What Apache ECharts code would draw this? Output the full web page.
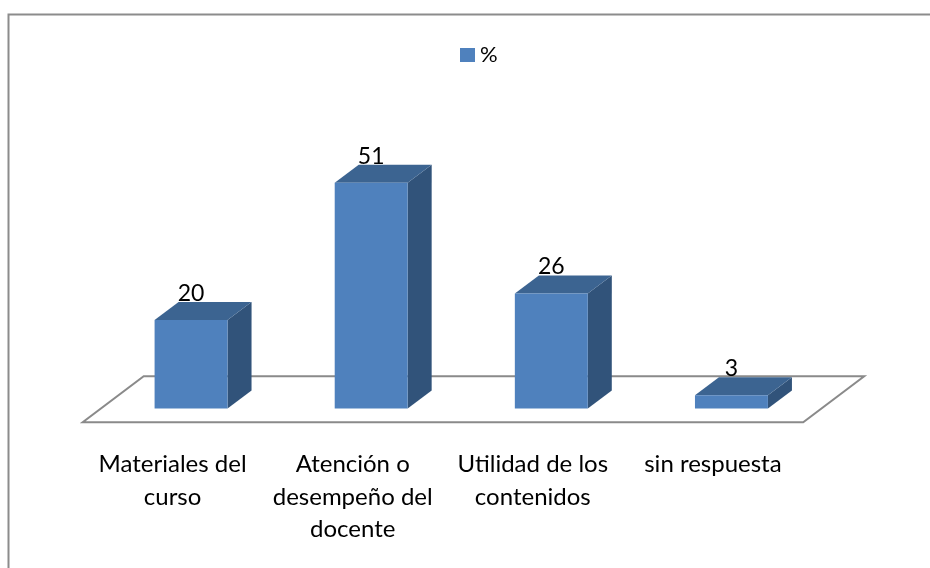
<!DOCTYPE html>
<html>
<head>
<meta charset="utf-8">
<script src="https://cdn.jsdelivr.net/npm/echarts@6/dist/echarts.min.js"></script>
<style>
html,body{margin:0;padding:0;background:#fff;}
#chart{width:930px;height:568px;}
</style>
</head>
<body>
<div id="chart"></div>
<script>
const categories = ['Materiales del\ncurso', 'Atención o\ndesempeño del\ndocente', 'Utilidad de los\ncontenidos', 'sin respuesta'];
const values = [20, 51, 26, 3];
const seriesName = '%';

const FONT = 'Lato';
const FRONT = '#4F81BD';
const TOP = '#3C6491';
const SIDE = '#31537A';
const FLOOR = '#8a8a8a';

const chart = echarts.init(document.getElementById('chart'), null, {renderer: 'canvas'});

function floorRender(params, api) {
  const cs = params.coordSys;
  const zeroY = cs.y + cs.height;
  const D = [61, -46];
  const off = [-18.3, 13.8];
  const fl = [cs.x + off[0], zeroY + off[1]];
  const fr = [cs.x + cs.width + off[0], zeroY + off[1]];
  const br = [fr[0] + D[0], fr[1] + D[1]];
  const bl = [fl[0] + D[0], fl[1] + D[1]];
  return {
    type: 'polygon',
    shape: {points: [fl, fr, br, bl]},
    style: {fill: '#fff', stroke: FLOOR, lineWidth: 2},
    silent: true
  };
}

function barRender(params, api) {
  const band = api.size([1, 0])[0];
  const bw = band * 0.405;
  const dx = 24, dy = -18;
  const base = api.coord([api.value(0), 0]);
  const top = api.coord([api.value(0), api.value(1)]);
  const x0 = base[0] - bw / 2;
  const x1 = x0 + bw;
  const yb = base[1];
  const yt = top[1];
  return {
    type: 'group',
    children: [
      {type: 'polygon', shape: {points: [[x1, yt], [x1 + dx, yt + dy], [x1 + dx, yb + dy], [x1, yb]]}, style: {fill: SIDE}},
      {type: 'polygon', shape: {points: [[x0, yt], [x1, yt], [x1 + dx, yt + dy], [x0 + dx, yt + dy]]}, style: {fill: TOP}},
      {type: 'rect', shape: {x: x0, y: yt, width: bw, height: yb - yt}, style: {fill: FRONT}},
      {type: 'text', x: base[0], y: yt + dy + 3, style: {text: String(api.value(1)), fill: '#000', font: '23px ' + FONT, align: 'center', verticalAlign: 'bottom'}}
    ]
  };
}

chart.setOption({
  animation: false,
  backgroundColor: '#fff',
  graphic: [{
    type: 'rect', left: 6, top: 12, z: -10, silent: true,
    shape: {x: 0, y: 0, width: 940, height: 580},
    style: {fill: 'none', stroke: '#8c8c8c', lineWidth: 2}
  }],
  legend: {
    data: [{name: seriesName, icon: 'rect', itemStyle: {color: FRONT}}],
    left: 460, top: 44, padding: 0,
    itemWidth: 15, itemHeight: 14, itemGap: 4,
    textStyle: {fontFamily: FONT, fontSize: 22, color: '#000', padding: [0, 0, 0, 0]}
  },
  grid: {left: 101, width: 720.5, top: 142.9, height: 265.6},
  xAxis: {
    type: 'category', data: categories,
    axisLine: {show: false}, axisTick: {show: false}, splitLine: {show: false},
    axisLabel: {
      interval: 0, margin: 40, fontFamily: FONT, fontSize: 24, color: '#000',
      lineHeight: 32.5, align: 'center', padding: [0, 37, 0, 0]
    }
  },
  yAxis: {
    type: 'value', min: 0, max: 60, interval: 10, show: false,
    splitLine: {show: false}
  },
  series: [
    {type: 'custom', name: 'floor', data: [[0, 0]], renderItem: floorRender, z: 1, silent: true, encode: {x: 0, y: 1}},
    {type: 'custom', name: seriesName, itemStyle: {color: FRONT}, data: values.map((v, i) => [i, v]), renderItem: barRender, z: 2, encode: {x: 0, y: 1}}
  ]
});
</script>
</body>
</html>
